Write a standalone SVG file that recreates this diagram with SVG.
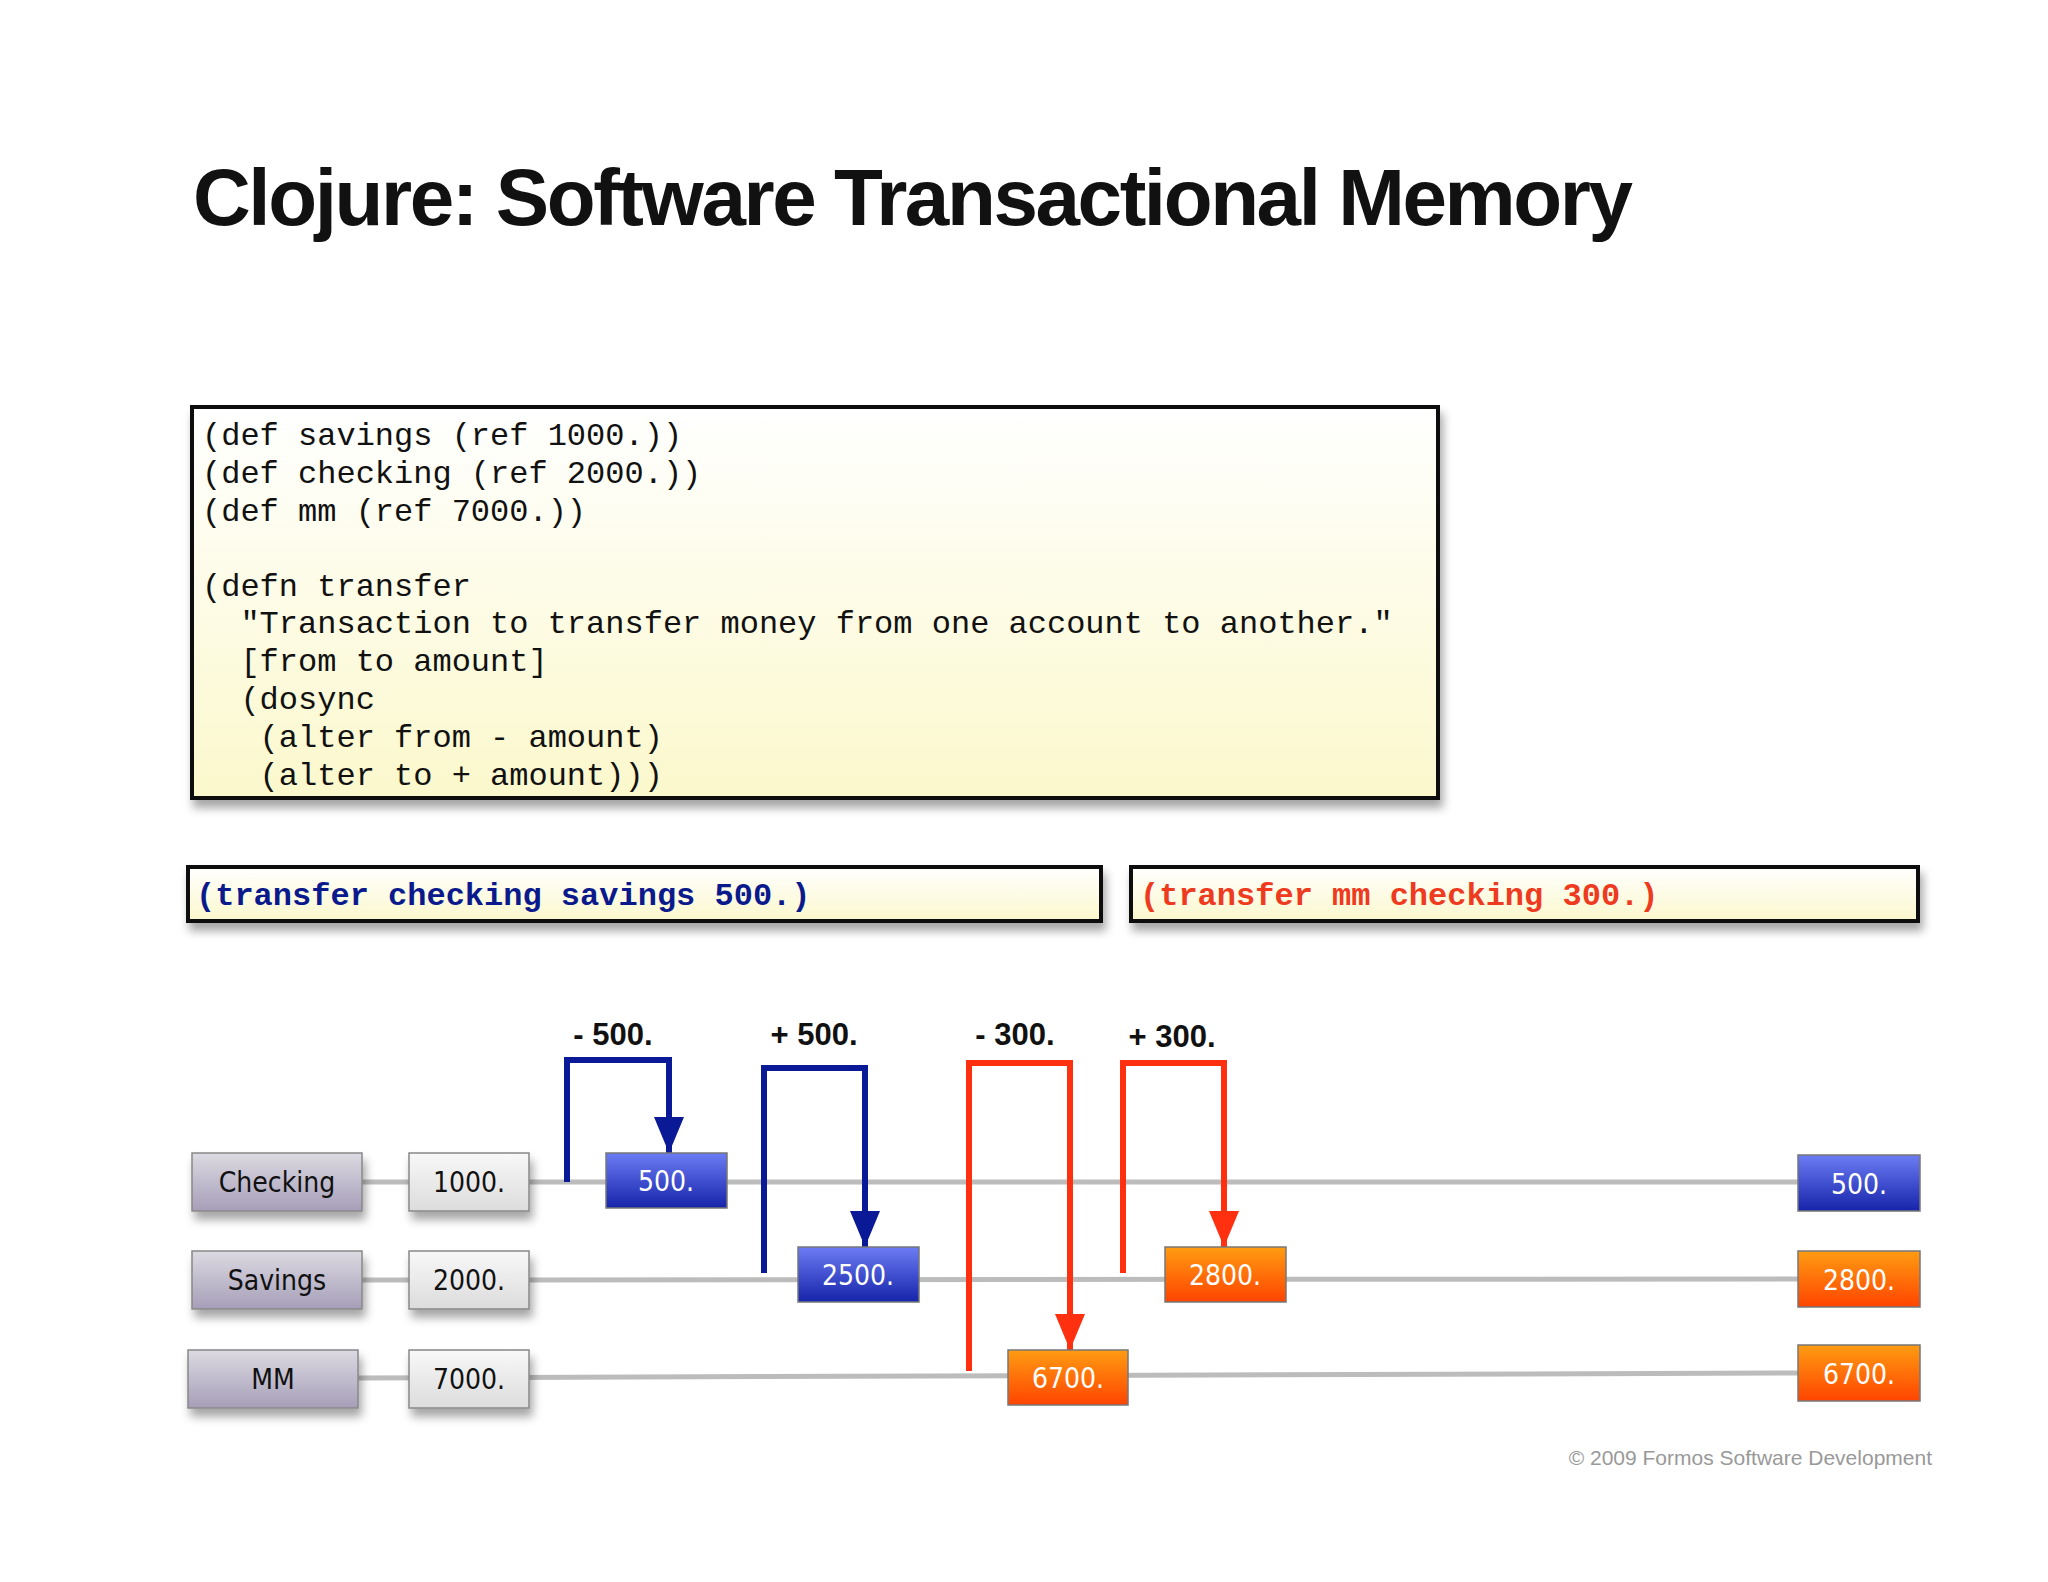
<svg xmlns="http://www.w3.org/2000/svg" width="2048" height="1582" viewBox="0 0 2048 1582">
<defs>
<linearGradient id="gy" x1="0" y1="0" x2="0" y2="1"><stop offset="0" stop-color="#ffffff"/><stop offset="1" stop-color="#fbf8cc"/></linearGradient>
<linearGradient id="gn" x1="0" y1="0" x2="0" y2="1"><stop offset="0" stop-color="#dcdae2"/><stop offset="1" stop-color="#a69eb8"/></linearGradient>
<linearGradient id="gv" x1="0" y1="0" x2="0" y2="1"><stop offset="0" stop-color="#f8f8f8"/><stop offset="1" stop-color="#dcdcdc"/></linearGradient>
<linearGradient id="gb" x1="0" y1="0" x2="0" y2="1"><stop offset="0" stop-color="#6c7cf4"/><stop offset="1" stop-color="#1624aa"/></linearGradient>
<linearGradient id="go" x1="0" y1="0" x2="0" y2="1"><stop offset="0" stop-color="#ff9c12"/><stop offset="1" stop-color="#ff4400"/></linearGradient>
<filter id="sh" x="-20%" y="-30%" width="140%" height="170%"><feDropShadow dx="3" dy="8" stdDeviation="5" flood-color="#000" flood-opacity="0.35"/></filter>
<marker id="ab" markerWidth="8" markerHeight="8" refX="6" refY="3.5" orient="auto" markerUnits="strokeWidth"><path d="M0,1 L6,3.5 L0,6 Z" fill="#0a1a96"/></marker>
<marker id="ar" markerWidth="8" markerHeight="8" refX="6" refY="3.5" orient="auto" markerUnits="strokeWidth"><path d="M0,1 L6,3.5 L0,6 Z" fill="#ff3010"/></marker>
<style>
.code{font-family:"Liberation Mono",monospace;font-size:32px;fill:#111}
.cb{font-family:"Liberation Mono",monospace;font-size:32px;font-weight:bold}
.lbl{font-family:"DejaVu Sans Condensed","DejaVu Sans",sans-serif;font-size:28px;text-anchor:middle}
.op{font-family:"Liberation Sans",sans-serif;font-size:31px;font-weight:bold;text-anchor:middle;fill:#111}
.box{stroke:#888;stroke-width:1.5;filter:url(#sh)}
.res{stroke:#777;stroke-width:1.5}
.tl{stroke:#bcbcbc;stroke-width:5;fill:none}
.cb1{stroke:#0a1a96;stroke-width:6;fill:none}
.cr1{stroke:#ff3010;stroke-width:6;fill:none}
</style>
</defs>
<rect width="2048" height="1582" fill="#fff"/>
<text x="193" y="225" font-family="Liberation Sans,sans-serif" font-weight="bold" font-size="80" textLength="1440" fill="#111">Clojure: Software Transactional Memory</text>

<g id="code">
<rect x="192" y="407" width="1246" height="391" fill="url(#gy)" stroke="#111" stroke-width="4" filter="url(#sh)"/>
<text class="code" x="202" y="445">(def savings (ref 1000.))</text>
<text class="code" x="202" y="483">(def checking (ref 2000.))</text>
<text class="code" x="202" y="521">(def mm (ref 7000.))</text>
<text class="code" x="202" y="596">(defn transfer</text>
<text class="code" x="202" y="633" xml:space="preserve">  "Transaction to transfer money from one account to another."</text>
<text class="code" x="202" y="671" xml:space="preserve">  [from to amount]</text>
<text class="code" x="202" y="709" xml:space="preserve">  (dosync</text>
<text class="code" x="202" y="747" xml:space="preserve">   (alter from - amount)</text>
<text class="code" x="202" y="785" xml:space="preserve">   (alter to + amount)))</text>
</g>
<g id="call1">
<rect x="188" y="867" width="913" height="54" fill="url(#gy)" stroke="#111" stroke-width="4" filter="url(#sh)"/>
<text class="cb" x="196" y="905" fill="#0a1a8c">(transfer checking savings 500.)</text>
</g>
<g id="call2">
<rect x="1131" y="867" width="787" height="54" fill="url(#gy)" stroke="#111" stroke-width="4" filter="url(#sh)"/>
<text class="cb" x="1140" y="905" fill="#ee3a1e">(transfer mm checking 300.)</text>
</g>

<g id="timelines">
<line class="tl" x1="362" y1="1182" x2="1798" y2="1182"/>
<line class="tl" x1="362" y1="1280" x2="1798" y2="1279"/>
<line class="tl" x1="358" y1="1378" x2="1798" y2="1373"/>
</g>

<g id="connectors">
<polyline class="cb1" points="567,1182 567,1060 669,1060 669,1153" marker-end="url(#ab)"/>
<polyline class="cb1" points="764,1273 764,1068 865,1068 865,1247" marker-end="url(#ab)"/>
<polyline class="cr1" points="969,1371 969,1063 1070,1063 1070,1350" marker-end="url(#ar)"/>
<polyline class="cr1" points="1123,1273 1123,1063 1224,1063 1224,1247" marker-end="url(#ar)"/>
<text class="op" x="613" y="1045">- 500.</text>
<text class="op" x="814" y="1045">+ 500.</text>
<text class="op" x="1015" y="1045">- 300.</text>
<text class="op" x="1172" y="1047">+ 300.</text>
</g>

<g id="checking"><rect class="box" x="192" y="1153" width="170" height="58" fill="url(#gn)"/><text class="lbl" x="277" y="1192" fill="#111">Checking</text></g>
<g id="savings"><rect class="box" x="192" y="1251" width="170" height="58" fill="url(#gn)"/><text class="lbl" x="277" y="1290" fill="#111">Savings</text></g>
<g id="mm"><rect class="box" x="188" y="1350" width="170" height="58" fill="url(#gn)"/><text class="lbl" x="273" y="1389" fill="#111">MM</text></g>
<g id="v1000"><rect class="box" x="409" y="1153" width="120" height="58" fill="url(#gv)"/><text class="lbl" x="469" y="1192" fill="#111">1000.</text></g>
<g id="v2000"><rect class="box" x="409" y="1251" width="120" height="58" fill="url(#gv)"/><text class="lbl" x="469" y="1290" fill="#111">2000.</text></g>
<g id="v7000"><rect class="box" x="409" y="1350" width="120" height="58" fill="url(#gv)"/><text class="lbl" x="469" y="1389" fill="#111">7000.</text></g>

<g id="c500"><rect class="res" x="606" y="1153" width="121" height="55" fill="url(#gb)"/><text class="lbl" x="666" y="1191" fill="#fff">500.</text></g>
<g id="s2500"><rect class="res" x="798" y="1247" width="121" height="55" fill="url(#gb)"/><text class="lbl" x="858" y="1285" fill="#fff">2500.</text></g>
<g id="m6700"><rect class="res" x="1008" y="1350" width="120" height="55" fill="url(#go)"/><text class="lbl" x="1068" y="1388" fill="#fff">6700.</text></g>
<g id="s2800"><rect class="res" x="1165" y="1247" width="121" height="55" fill="url(#go)"/><text class="lbl" x="1225" y="1285" fill="#fff">2800.</text></g>
<g id="fc500"><rect class="res" x="1798" y="1155" width="122" height="56" fill="url(#gb)"/><text class="lbl" x="1859" y="1194" fill="#fff">500.</text></g>
<g id="fs2800"><rect class="res" x="1798" y="1251" width="122" height="56" fill="url(#go)"/><text class="lbl" x="1859" y="1290" fill="#fff">2800.</text></g>
<g id="fm6700"><rect class="res" x="1798" y="1345" width="122" height="56" fill="url(#go)"/><text class="lbl" x="1859" y="1384" fill="#fff">6700.</text></g>

<text x="1932" y="1465" text-anchor="end" font-family="Liberation Sans,sans-serif" font-size="21" fill="#999">© 2009 Formos Software Development</text>
</svg>
